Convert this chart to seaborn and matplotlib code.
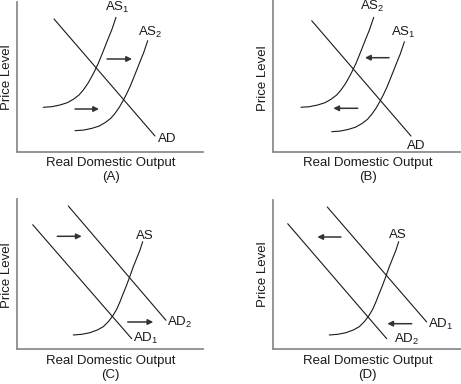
import numpy as np
import pandas as pd
import matplotlib
matplotlib.use('Agg')
import matplotlib.pyplot as plt
import seaborn as sns

# curve readings, in pixels from each panel's origin (x right, y up)
# panel A: AS shifts right
a_ad_x = [37.5, 138.5]
a_ad_y = [132.7, 15.7]
a_as1_x = [26.8, 35.2, 43.5, 50.8, 56.8, 62.5, 66.8, 71.2, 75.2, 78.5, 81.8,
           85.2, 88.5, 91.8, 95.2, 97.5, 99.5]
a_as1_y = [44.4, 45.0, 46.7, 49.0, 52.4, 56.7, 61.7, 68.0, 75.0, 81.4, 88.4,
           96.7, 105.0, 113.4, 121.7, 128.4, 134.4]
a_as2_x = [58.5, 66.9, 75.2, 82.5, 88.5, 94.2, 98.5, 102.9, 106.9, 110.2, 113.5,
           116.9, 120.2, 123.5, 126.9, 129.2, 131.2]
a_as2_y = [21.0, 21.6, 23.3, 25.6, 29.0, 33.3, 38.3, 44.6, 51.6, 58.0, 65.0,
           73.3, 81.6, 90.0, 98.3, 105.0, 111.0]

# panel B: AS shifts left
b_ad_x = [39.2, 138.5]
b_ad_y = [131.0, 15.7]
b_as2_x = [28.5, 36.9, 45.2, 52.5, 58.5, 64.2, 68.5, 72.9, 76.9, 80.2, 83.5,
           86.9, 90.2, 93.5, 96.9, 99.2, 101.2]
b_as2_y = [44.4, 45.0, 46.7, 49.0, 52.4, 56.7, 61.7, 68.0, 75.0, 81.4, 88.4,
           96.7, 105.0, 113.4, 121.7, 128.4, 134.4]
b_as1_x = [59.2, 67.6, 75.9, 83.2, 89.2, 94.9, 99.2, 103.6, 107.6, 110.9, 114.2,
           117.6, 120.9, 124.2, 127.6, 129.9, 131.9]
b_as1_y = [20.0, 20.6, 22.3, 24.6, 28.0, 32.3, 37.3, 43.6, 50.6, 57.0, 64.0,
           72.3, 80.6, 89.0, 97.3, 104.0, 110.0]

# panels C and D: one AS, AD shifts
c_ad1_x = [16.2, 115.2]
c_ad1_y = [124.0, 10.0]
c_ad2_x = [51.8, 149.5]
c_ad2_y = [142.7, 28.4]
d_ad2_x = [15.2, 114.2]
d_ad2_y = [125.0, 10.0]
d_ad1_x = [54.8, 154.2]
d_ad1_y = [141.7, 26.7]
cd_as_x = [56.8, 65.2, 73.5, 80.8, 86.8, 92.2, 96.8, 100.5, 103.5, 106.8, 110.2,
           113.5, 116.8, 120.2, 123.5, 126.2]
cd_as_y = [13.7, 14.4, 16.0, 18.7, 22.0, 27.4, 33.7, 40.0, 47.0, 55.4, 63.7,
           72.7, 82.0, 90.4, 98.7, 107.0]

W, H = 461, 384
ink = '#1a1a1a'
axis_col = '#8c8c8c'
fs = 9.5

sns.set_style('white')
plt.rcParams['font.family'] = ['Liberation Sans', 'DejaVu Sans']
plt.rcParams['mathtext.default'] = 'regular'

fig = plt.figure(figsize=(W / 100, H / 100), dpi=100)


def make_ax(left, top, right, bottom):
    ax = fig.add_axes([left / W, 1 - bottom / H, (right - left) / W, (bottom - top) / H])
    ax.set_xlim(0, right - left)
    ax.set_ylim(0, bottom - top)
    for s in ['top', 'right']:
        ax.spines[s].set_visible(False)
    for s in ['left', 'bottom']:
        ax.spines[s].set_color(axis_col)
        ax.spines[s].set_linewidth(1.3)
    ax.set_xticks([])
    ax.set_yticks([])
    ax.patch.set_alpha(0)
    return ax


def curve(ax, xs, ys):
    d = pd.DataFrame({'x': xs, 'y': ys})
    sns.lineplot(data=d, x='x', y='y', ax=ax, sort=False, estimator=None,
                 color=ink, lw=0.8)
    ax.set_xlabel('')
    ax.set_ylabel('')


def arrow(ax, x0, x1, y):
    ax.annotate('', xy=(x1, y), xytext=(x0, y),
                arrowprops=dict(arrowstyle='-|>', color='#333333', lw=1.1,
                                mutation_scale=8, shrinkA=0, shrinkB=0))


def lab(ax, x, y, s):
    ax.text(x, y, s, fontsize=fs, color=ink, ha='center', va='center')


axA = make_ax(16.5, 2, 203, 151.7)
curve(axA, a_ad_x, a_ad_y)
curve(axA, a_as1_x, a_as1_y)
curve(axA, a_as2_x, a_as2_y)
lab(axA, 100.5, 144.7, 'AS$_1$')
lab(axA, 133.5, 119.7, 'AS$_2$')
lab(axA, 150.5, 12.7, 'AD')
arrow(axA, 90.5, 115.5, 92.7)
arrow(axA, 58.5, 82.5, 42.7)

axB = make_ax(272.5, 0, 461, 151.7)
curve(axB, b_ad_x, b_ad_y)
curve(axB, b_as2_x, b_as2_y)
curve(axB, b_as1_x, b_as1_y)
lab(axB, 100.2, 145.0, 'AS$_2$')
lab(axB, 130.5, 119.7, 'AS$_1$')
lab(axB, 144.2, 5.7, 'AD')
arrow(axB, 116.5, 92.5, 94.0)
arrow(axB, 85.2, 60.8, 43.4)

axC = make_ax(16.5, 199, 203, 348.7)
curve(axC, c_ad1_x, c_ad1_y)
curve(axC, c_ad2_x, c_ad2_y)
curve(axC, cd_as_x, cd_as_y)
lab(axC, 128.5, 112.4, 'AS')
lab(axC, 163.5, 26.7, 'AD$_2$')
lab(axC, 129.2, 10.0, 'AD$_1$')
arrow(axC, 40.8, 65.2, 112.4)
arrow(axC, 111.2, 136.8, 26.7)

axD = make_ax(272.5, 200, 461, 348.7)
curve(axD, d_ad2_x, d_ad2_y)
curve(axD, d_ad1_x, d_ad1_y)
curve(axD, cd_as_x, cd_as_y)
lab(axD, 125.8, 113.4, 'AS')
lab(axD, 168.2, 24.0, 'AD$_1$')
lab(axD, 134.2, 9.0, 'AD$_2$')
arrow(axD, 68.5, 44.8, 111.7)
arrow(axD, 139.2, 114.8, 25.0)

# axis titles and panel letters, in figure pixels
panels = [('A', 7.3, 77, 110.5, 162.7, 176.7),
          ('B', 263.3, 78, 367.5, 162.7, 176.7),
          ('C', 7.3, 275, 110.5, 361.3, 375.3),
          ('D', 263.3, 274, 367.5, 361.3, 375.3)]
for letter, px, py, ox, oy, ly in panels:
    fig.text(px / W, 1 - py / H, 'Price Level', rotation=90, fontsize=fs,
             color=ink, ha='center', va='center')
    fig.text(ox / W, 1 - oy / H, 'Real Domestic Output', fontsize=fs,
             color=ink, ha='center', va='center')
    fig.text(ox / W, 1 - ly / H, f'({letter})', fontsize=fs,
             color=ink, ha='center', va='center')

fig.savefig('out.png', dpi=100)
